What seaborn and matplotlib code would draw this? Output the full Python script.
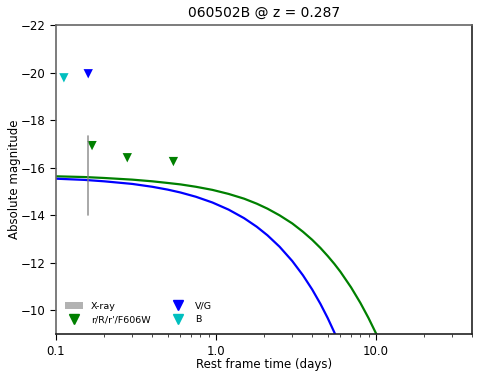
import matplotlib
matplotlib.use("Agg")
import matplotlib.pyplot as plt
import matplotlib.ticker as mticker
from matplotlib.patches import Patch
from matplotlib.lines import Line2D
import seaborn as sns
import pandas as pd

# upper limits (rest frame days, absolute magnitude)
b_t = [0.112]
b_mag = [-19.78]
vg_t = [0.159]
vg_mag = [-19.95]
r_t = [0.168, 0.279, 0.542]
r_mag = [-16.93, -16.42, -16.26]

# X-ray range
xray_t = 0.159
xray_lo = -14.0
xray_hi = -17.35

# model curves
green_t = [0.1, 0.15, 0.2, 0.3, 0.4, 0.5, 0.6, 0.75, 0.95, 1.2, 1.5, 1.8, 2.1, 2.5,
           3.0, 3.5, 4.0, 4.5, 5.0, 5.5, 6.0, 7.0, 8.0, 9.0, 10.0, 10.2]
green_mag = [-15.64, -15.61, -15.57, -15.50, -15.43, -15.36, -15.30, -15.20, -15.07, -14.90,
             -14.70, -14.49, -14.28, -14.00, -13.66, -13.31, -12.97, -12.63, -12.29, -11.96,
             -11.63, -10.97, -10.32, -9.68, -9.05, -8.92]
blue_t = [0.1, 0.15, 0.2, 0.3, 0.4, 0.5, 0.6, 0.75, 0.95, 1.2, 1.5, 1.8, 2.1, 2.5,
          3.0, 3.5, 4.0, 4.5, 5.0, 5.5, 5.7]
blue_mag = [-15.54, -15.49, -15.43, -15.32, -15.20, -15.08, -14.96, -14.78, -14.54, -14.24,
            -13.88, -13.52, -13.16, -12.68, -12.08, -11.48, -10.88, -10.28, -9.68, -9.08, -8.84]

sns.set_style("white")
plt.rcParams["font.family"] = ["DejaVu Sans"]
plt.rcParams["text.color"] = "black"
plt.rcParams["axes.labelcolor"] = "black"

fig = plt.figure(figsize=(4.85, 3.79), dpi=100)
ax = fig.add_axes([0.1155, 0.118, 0.858, 0.816])

green_df = pd.DataFrame({"t": green_t, "mag": green_mag})
blue_df = pd.DataFrame({"t": blue_t, "mag": blue_mag})
sns.lineplot(data=green_df, x="t", y="mag", color="green", lw=1.6, ax=ax, sort=False)
sns.lineplot(data=blue_df, x="t", y="mag", color="blue", lw=1.6, ax=ax, sort=False)

ax.plot([xray_t, xray_t], [xray_lo, xray_hi], color="gray", lw=1.2, alpha=0.8)

sns.scatterplot(x=r_t, y=r_mag, marker="v", color="green", s=45, edgecolor="none", ax=ax)
sns.scatterplot(x=vg_t, y=vg_mag, marker="v", color="blue", s=45, edgecolor="none", ax=ax)
sns.scatterplot(x=b_t, y=b_mag, marker="v", color="c", s=45, edgecolor="none", ax=ax)

ax.set_xscale("log")
ax.set_xlim(0.1, 40)
ax.set_ylim(-9.0, -22)
ax.set_yticks([-22, -20, -18, -16, -14, -12, -10])
ax.xaxis.set_major_formatter(mticker.FuncFormatter(lambda v, p: f"{v:.1f}"))
ax.xaxis.set_minor_formatter(mticker.NullFormatter())
ax.tick_params(axis="both", which="major", direction="out", length=4, width=0.8,
               labelsize=8.5, bottom=True, left=True, colors="black")
ax.tick_params(axis="x", which="minor", direction="out", length=2, width=0.6, bottom=True)

for side in ["left", "top"]:
    ax.spines[side].set_color("#666666")
for side in ["right", "bottom"]:
    ax.spines[side].set_color("#222222")
for s in ax.spines.values():
    s.set_linewidth(1.2)

ax.set_title("060502B @ z = 0.287", fontsize=10, color="black")
ax.set_xlabel("Rest frame time (days)", fontsize=8.5, labelpad=0)
ax.set_ylabel("Absolute magnitude", fontsize=8.5, labelpad=0)

handles = [
    Patch(facecolor="gray", alpha=0.6, edgecolor="none", label="X-ray"),
    Line2D([], [], marker="v", color="green", ls="none", markersize=6.5, label="r/R/r'/F606W"),
    Line2D([], [], marker="v", color="blue", ls="none", markersize=6.5, label="V/G"),
    Line2D([], [], marker="v", color="c", ls="none", markersize=6.5, label="B"),
]
ax.legend(handles=handles, loc="lower left", ncol=2, frameon=False, fontsize=6.8,
          columnspacing=1.9, handlelength=2.0, labelspacing=0.5,
          bbox_to_anchor=(0.0, 0.005))

fig.savefig("out.png", dpi=100)
